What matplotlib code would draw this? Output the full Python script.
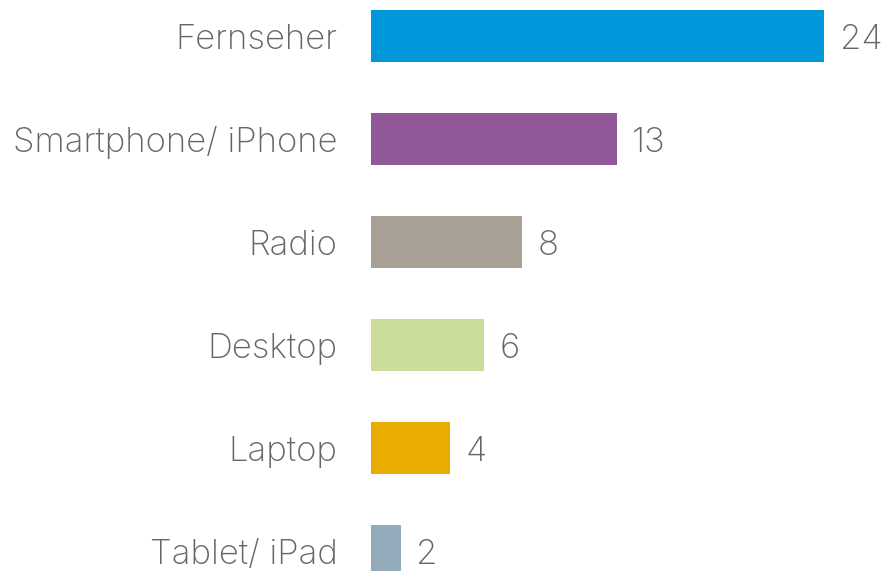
import matplotlib
matplotlib.use('Agg')
import matplotlib.pyplot as plt

categories = ['Fernseher', 'Smartphone/ iPhone', 'Radio', 'Desktop', 'Laptop', 'Tablet/ iPad']
values = [24.0, 13.0, 8.0, 6.0, 4.2, 1.6]
colors = ['#0098DA', '#915799', '#A9A095', '#C9DC9A', '#EAAC00', '#93AABB']

plt.rcParams['font.family'] = ['Inter', 'DejaVu Sans']
text_color = '#666666'

fig = plt.figure(figsize=(8.83, 5.71), dpi=100)
ax = fig.add_axes([371 / 883, 0, 1 - 371 / 883, 1])

pos = list(range(len(categories)))
ax.barh(pos, values, height=0.505, color=colors)

for p, v in zip(pos, values):
    ax.text(v + 0.8, p, '{:.0f}'.format(v), va='center_baseline', ha='left',
            fontsize=25, fontweight='light', color=text_color)

ax.set_yticks(pos)
ax.set_yticklabels(categories, fontsize=25, fontweight='light', color=text_color)
ax.tick_params(axis='y', length=0, pad=24)
ax.set_xticks([])
ax.set_xlim(0, 27.1)
ax.set_ylim(5.194, -0.35)
for s in ax.spines.values():
    s.set_visible(False)

fig.savefig('out.png', dpi=100)
